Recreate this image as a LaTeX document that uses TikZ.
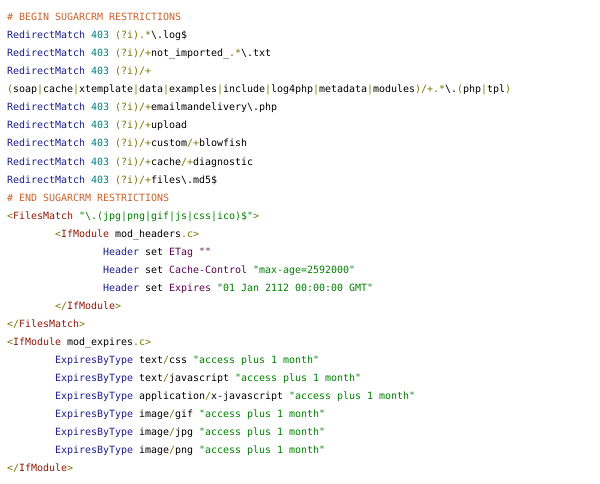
\documentclass[tikz,border=0pt]{standalone}
\usepackage{fontspec}
\newfontfamily\codefont{DejaVu Sans Mono}[Ligatures=NoCommon]
\definecolor{ccmt}{HTML}{C8642D}
\definecolor{ckw}{HTML}{1E1E8C}
\definecolor{cnum}{HTML}{008080}
\definecolor{cre}{HTML}{767600}
\definecolor{ctag}{HTML}{8C1A0A}
\definecolor{cstr}{HTML}{008000}
\definecolor{cpur}{HTML}{5A0050}
\newcommand\Ccmt[1]{\textcolor{ccmt}{#1}}
\newcommand\Ckw[1]{\textcolor{ckw}{#1}}
\newcommand\Cnum[1]{\textcolor{cnum}{#1}}
\newcommand\Cre[1]{\textcolor{cre}{#1}}
\newcommand\Ctag[1]{\textcolor{ctag}{#1}}
\newcommand\Cstr[1]{\textcolor{cstr}{#1}}
\newcommand\Cpur[1]{\textcolor{cpur}{#1}}
\newcommand\BS{\textbackslash}
\newcommand\RM{\Ckw{RedirectMatch} \Cnum{403} \Cre{(?i)}}
\begin{document}
\begin{tikzpicture}[x=1pt,y=-1pt,
  codeline/.style={anchor=base west,inner sep=0pt,outer sep=0pt,
    font=\codefont\fontsize{9.97pt}{12pt}\selectfont}]
\useasboundingbox[fill=white] (0,0) rectangle (600,484);
\def\xa{7}
\def\xb{55}
\def\xc{103}
\node[codeline] (l1) at (\xa,21) {\Ccmt{\# BEGIN SUGARCRM RESTRICTIONS}};
\node[codeline] (l2) at (\xa,39) {\RM\Cre{.*}\BS.log\$};
\node[codeline] (l3) at (\xa,57) {\RM\Cre{/+}not\_imported\_\Cre{.*}\BS.txt};
\node[codeline] (l4) at (\xa,75) {\RM\Cre{/+}};
\node[codeline] (l5) at (\xa,93) {\Cre{(}soap\Cre{|}cache\Cre{|}xtemplate\Cre{|}data\Cre{|}examples\Cre{|}include\Cre{|}log4php\Cre{|}metadata\Cre{|}modules\Cre{)/+.*}\BS.\Cre{(}php\Cre{|}tpl\Cre{)}};
\node[codeline] (l6) at (\xa,111) {\RM\Cre{/+}emailmandelivery\BS.php};
\node[codeline] (l7) at (\xa,129) {\RM\Cre{/+}upload};
\node[codeline] (l8) at (\xa,147) {\RM\Cre{/+}custom\Cre{/+}blowfish};
\node[codeline] (l9) at (\xa,165) {\RM\Cre{/+}cache\Cre{/+}diagnostic};
\node[codeline] (l10) at (\xa,183) {\RM\Cre{/+}files\BS.md5\$};
\node[codeline] (l11) at (\xa,201) {\Ccmt{\# END SUGARCRM RESTRICTIONS}};
\node[codeline] (l12) at (\xa,219) {\Cre{<}\Ctag{FilesMatch} \Cstr{"\BS.(jpg|png|gif|js|css|ico)\$"}\Cre{>}};
\node[codeline] (l13) at (\xb,237) {\Cre{<}\Ctag{IfModule} mod\_headers\Cre{.c>}};
\node[codeline] (l14) at (\xc,255) {\Ckw{Header} set \Cpur{ETag ""}};
\node[codeline] (l15) at (\xc,273) {\Ckw{Header} set \Cpur{Cache-Control} \Cstr{"max-age=2592000"}};
\node[codeline] (l16) at (\xc,291) {\Ckw{Header} set \Cpur{Expires} \Cstr{"01 Jan 2112 00:00:00 GMT"}};
\node[codeline] (l17) at (\xb,309) {\Cre{</}\Ctag{IfModule}\Cre{>}};
\node[codeline] (l18) at (\xa,327) {\Cre{</}\Ctag{FilesMatch}\Cre{>}};
\node[codeline] (l19) at (\xa,345) {\Cre{<}\Ctag{IfModule} mod\_expires\Cre{.c>}};
\node[codeline] (l20) at (\xb,363) {\Ckw{ExpiresByType} text\Cre{/}css \Cstr{"access plus 1 month"}};
\node[codeline] (l21) at (\xb,381) {\Ckw{ExpiresByType} text\Cre{/}javascript \Cstr{"access plus 1 month"}};
\node[codeline] (l22) at (\xb,399) {\Ckw{ExpiresByType} application\Cre{/}x-javascript \Cstr{"access plus 1 month"}};
\node[codeline] (l23) at (\xb,417) {\Ckw{ExpiresByType} image\Cre{/}gif \Cstr{"access plus 1 month"}};
\node[codeline] (l24) at (\xb,435) {\Ckw{ExpiresByType} image\Cre{/}jpg \Cstr{"access plus 1 month"}};
\node[codeline] (l25) at (\xb,453) {\Ckw{ExpiresByType} image\Cre{/}png \Cstr{"access plus 1 month"}};
\node[codeline] (l26) at (\xa,471) {\Cre{</}\Ctag{IfModule}\Cre{>}};
\end{tikzpicture}
\end{document}
